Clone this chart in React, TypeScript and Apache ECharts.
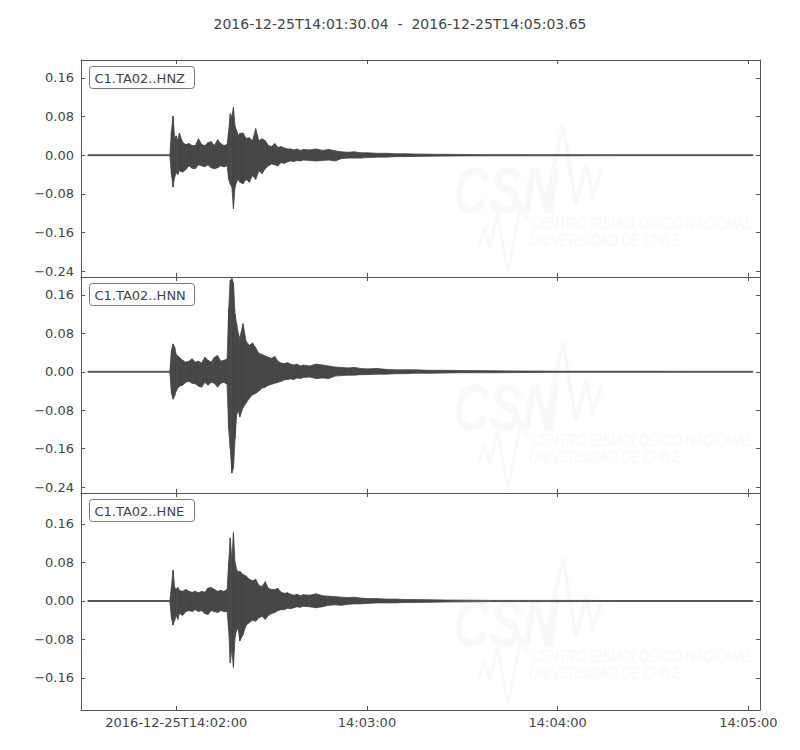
import React, { useEffect, useRef } from "react";
import * as echarts from "echarts";

const TITLE = "2016-12-25T14:01:30.04  -  2016-12-25T14:05:03.65";
const CHANNELS = ["C1.TA02..HNZ", "C1.TA02..HNN", "C1.TA02..HNE"];

// time axis: seconds after 2016-12-25T14:01:00
const X_MIN = 30.04;
const X_MAX = 243.65;
const X_TICKS = [60, 120, 180, 240];
const X_TICK_LABELS = ["2016-12-25T14:02:00", "14:03:00", "14:04:00", "14:05:00"];

const Y_LIMITS = [
  [-0.2524, 0.1973],
  [-0.2524, 0.1973],
  [-0.2265, 0.2244],
];
const Y_TICKS = [
  [-0.24, -0.16, -0.08, 0, 0.08, 0.16],
  [-0.24, -0.16, -0.08, 0, 0.08, 0.16],
  [-0.16, -0.08, 0, 0.08, 0.16],
];

// envelope sample times (s after 14:01:00)
const TIMES = [
  32.2, 58, 58.5, 59, 59.5, 60, 60.5, 61, 62, 63, 64, 65, 66, 67, 68, 69, 70, 71, 72, 73, 74, 75, 76,
  76.5, 77, 77.5, 78, 78.5, 79, 79.5, 80, 81, 82, 83, 84, 85, 86, 87, 88, 89, 90, 91, 92, 93, 94, 95,
  96, 97, 98, 99, 100, 102, 104, 106, 108, 110, 112, 114, 116, 118, 120, 123, 126, 129, 132, 135, 140,
  145, 150, 160, 170, 180, 200, 220, 241.4,
];

// upper / lower envelopes
const HNZ_MAX = [
  0.001, 0.001, 0.05, 0.081, 0.035, 0.04, 0.03, 0.046, 0.027, 0.022, 0.024, 0.02, 0.02, 0.034, 0.022, 0.02, 0.026, 0.028, 0.02, 0.032, 0.024, 0.02, 0.022,
  0.05, 0.086, 0.08, 0.099, 0.06, 0.051, 0.041, 0.045, 0.046, 0.035, 0.036, 0.03, 0.055, 0.03, 0.034, 0.03, 0.02, 0.018, 0.024, 0.016, 0.018, 0.015, 0.013,
  0.013, 0.011, 0.013, 0.01, 0.012, 0.011, 0.013, 0.01, 0.012, 0.009, 0.007, 0.006, 0.007, 0.005, 0.005, 0.004, 0.004, 0.003, 0.003, 0.0025, 0.002,
  0.0018, 0.0015, 0.0012, 0.0012, 0.0012, 0.001, 0.001, 0.001,
];
const HNZ_MIN = [
  -0.001, -0.001, -0.04, -0.066, -0.045, -0.036, -0.04, -0.032, -0.035, -0.03, -0.022, -0.027, -0.028, -0.02, -0.022, -0.024, -0.02, -0.026, -0.028, -0.026, -0.022, -0.024, -0.022,
  -0.05, -0.06, -0.066, -0.111, -0.066, -0.055, -0.05, -0.056, -0.059, -0.05, -0.056, -0.042, -0.05, -0.032, -0.038, -0.028, -0.022, -0.018, -0.02, -0.022, -0.015, -0.017, -0.014,
  -0.012, -0.013, -0.011, -0.012, -0.01, -0.011, -0.012, -0.011, -0.01, -0.012, -0.007, -0.006, -0.006, -0.006, -0.005, -0.004, -0.004, -0.003, -0.003, -0.0025, -0.002,
  -0.0018, -0.0015, -0.0012, -0.0012, -0.0012, -0.001, -0.001, -0.001,
];
const HNN_MAX = [
  0.001, 0.001, 0.045, 0.058, 0.051, 0.036, 0.033, 0.03, 0.024, 0.02, 0.022, 0.027, 0.02, 0.022, 0.018, 0.03, 0.024, 0.02, 0.03, 0.034, 0.022, 0.024, 0.026,
  0.13, 0.19, 0.194, 0.185, 0.12, 0.1, 0.08, 0.07, 0.1, 0.063, 0.055, 0.06, 0.05, 0.038, 0.036, 0.033, 0.03, 0.028, 0.032, 0.022, 0.018, 0.017, 0.019,
  0.016, 0.014, 0.016, 0.012, 0.014, 0.012, 0.016, 0.014, 0.012, 0.01, 0.009, 0.008, 0.009, 0.007, 0.006, 0.007, 0.005, 0.004, 0.004, 0.004, 0.003,
  0.003, 0.0025, 0.002, 0.0015, 0.0012, 0.0012, 0.001, 0.001,
];
const HNN_MIN = [
  -0.001, -0.001, -0.045, -0.057, -0.05, -0.04, -0.034, -0.03, -0.028, -0.022, -0.02, -0.024, -0.025, -0.03, -0.032, -0.022, -0.028, -0.022, -0.024, -0.032, -0.024, -0.022, -0.026,
  -0.12, -0.16, -0.211, -0.2, -0.14, -0.09, -0.08, -0.094, -0.075, -0.065, -0.055, -0.048, -0.045, -0.04, -0.034, -0.032, -0.028, -0.026, -0.024, -0.022, -0.02, -0.017, -0.016,
  -0.015, -0.016, -0.013, -0.014, -0.012, -0.011, -0.014, -0.013, -0.014, -0.009, -0.008, -0.007, -0.007, -0.006, -0.006, -0.005, -0.005, -0.004, -0.004, -0.003, -0.003,
  -0.0025, -0.002, -0.002, -0.0015, -0.0012, -0.0012, -0.001, -0.001,
];
const HNE_MAX = [
  0.001, 0.001, 0.03, 0.064, 0.028, 0.025, 0.028, 0.022, 0.02, 0.024, 0.02, 0.018, 0.02, 0.017, 0.02, 0.018, 0.027, 0.028, 0.024, 0.02, 0.022, 0.02, 0.024,
  0.08, 0.131, 0.085, 0.142, 0.08, 0.065, 0.06, 0.062, 0.055, 0.052, 0.045, 0.042, 0.045, 0.032, 0.03, 0.04, 0.026, 0.024, 0.024, 0.026, 0.018, 0.016, 0.017,
  0.014, 0.012, 0.014, 0.011, 0.013, 0.012, 0.015, 0.011, 0.01, 0.009, 0.008, 0.007, 0.008, 0.006, 0.005, 0.005, 0.004, 0.004, 0.003, 0.003, 0.0025,
  0.002, 0.0018, 0.0012, 0.0012, 0.0012, 0.001, 0.001, 0.001,
];
const HNE_MIN = [
  -0.001, -0.001, -0.035, -0.05, -0.04, -0.03, -0.038, -0.025, -0.03, -0.022, -0.02, -0.022, -0.018, -0.022, -0.02, -0.026, -0.028, -0.02, -0.022, -0.024, -0.02, -0.022, -0.022,
  -0.06, -0.128, -0.1, -0.138, -0.075, -0.06, -0.058, -0.083, -0.07, -0.05, -0.045, -0.04, -0.042, -0.035, -0.032, -0.038, -0.03, -0.026, -0.024, -0.02, -0.018, -0.018, -0.015,
  -0.016, -0.014, -0.012, -0.013, -0.011, -0.012, -0.014, -0.012, -0.009, -0.008, -0.009, -0.007, -0.006, -0.006, -0.005, -0.004, -0.004, -0.004, -0.003, -0.003, -0.0025,
  -0.002, -0.0018, -0.0012, -0.0012, -0.0012, -0.001, -0.001, -0.001,
];

const UPPER = [HNZ_MAX, HNN_MAX, HNE_MAX];
const LOWER = [HNZ_MIN, HNN_MIN, HNE_MIN];

const TRACE = "#464646";
const FRAME = "#555555";
const TEXT = "#444444";
const FONT = "DejaVu Sans";
const GRID_TOPS = [60, 277, 493];
const GRID_HEIGHTS = [217, 216, 217];
const WM = "#f8f8f8";

function fmtY(v: number) {
  const s = Math.abs(v) < 1e-9 ? "0.00" : v.toFixed(2);
  return s.replace("-", "\u2212");
}

export default function App() {
  const ref = useRef<HTMLDivElement>(null);

  useEffect(() => {
    if (!ref.current) return;
    const chart = echarts.init(ref.current, null, { renderer: "svg" });

    const grids: any[] = [];
    const xAxes: any[] = [];
    const yAxes: any[] = [];
    const series: any[] = [];
    const graphics: any[] = [];

    for (let i = 0; i < 3; i++) {
      grids.push({ left: 81, right: 40, top: GRID_TOPS[i], height: GRID_HEIGHTS[i], containLabel: false });
      const baseX = {
        type: "value",
        gridIndex: i,
        min: X_MIN,
        max: X_MAX,
        axisLine: { show: true, onZero: false, lineStyle: { color: FRAME, width: 1 } },
        axisTick: { show: true, inside: true, length: 4, customValues: X_TICKS, lineStyle: { color: FRAME } },
        splitLine: { show: false },
      };
      xAxes.push({
        ...baseX,
        position: "bottom",
        axisLabel: {
          show: i === 2,
          customValues: X_TICKS,
          margin: 6,
          color: TEXT,
          fontSize: 13,
          fontFamily: FONT,
          formatter: (v: number) => {
            const k = X_TICKS.findIndex((t) => Math.abs(t - v) < 1e-6);
            return k >= 0 ? X_TICK_LABELS[k] : "";
          },
        },
      });
      xAxes.push({ ...baseX, position: "top", axisLabel: { show: false } });
      const baseY = {
        type: "value",
        gridIndex: i,
        min: Y_LIMITS[i][0],
        max: Y_LIMITS[i][1],
        axisLine: { show: true, onZero: false, lineStyle: { color: FRAME, width: 1 } },
        axisTick: { show: true, inside: true, length: 4, customValues: Y_TICKS[i], lineStyle: { color: FRAME } },
        splitLine: { show: false },
      };
      yAxes.push({
        ...baseY,
        position: "left",
        axisLabel: {
          show: true,
          customValues: Y_TICKS[i],
          margin: 7,
          color: TEXT,
          fontSize: 13,
          fontFamily: FONT,
          formatter: (v: number) => fmtY(v),
        },
      });
      yAxes.push({ ...baseY, position: "right", axisLabel: { show: false } });

      const up = UPPER[i];
      const lo = LOWER[i];
      const data: number[][] = [];
      for (let k = 0; k < TIMES.length - 1; k++) {
        data.push([TIMES[k], up[k], lo[k], TIMES[k + 1], up[k + 1], lo[k + 1]]);
      }
      series.push({
        type: "custom",
        xAxisIndex: i * 2,
        yAxisIndex: i * 2,
        clip: true,
        silent: true,
        z: 5,
        encode: { x: [0, 3], y: [1, 2, 4, 5] },
        data,
        renderItem: (_params: any, api: any) => {
          const a = api.coord([api.value(0), api.value(1)]);
          const b = api.coord([api.value(3), api.value(4)]);
          const c = api.coord([api.value(3), api.value(5)]);
          const d = api.coord([api.value(0), api.value(2)]);
          return {
            type: "polygon",
            shape: { points: [a, b, c, d] },
            style: { fill: TRACE, stroke: TRACE, lineWidth: 0.8 },
          };
        },
      });

      const dy = GRID_TOPS[i] - 60;
      // faint CSN watermark
      graphics.push(
        {
          type: "text",
          z: 0,
          x: 453,
          y: 158 + dy,
          scaleY: 1.3,
          silent: true,
          style: { text: "CSN", font: "italic bold 50px Liberation Sans", fill: WM },
        },
        {
          type: "polyline",
          z: 0,
          silent: true,
          shape: { points: [[545, 207 + dy], [563, 125 + dy], [576, 205 + dy], [586, 163 + dy], [593, 195 + dy], [602, 168 + dy]] },
          style: { stroke: WM, lineWidth: 4, fill: null },
        },
        {
          type: "polyline",
          z: 0,
          silent: true,
          shape: { points: [[478, 245 + dy], [485, 230 + dy], [490, 248 + dy], [497, 213 + dy], [508, 272 + dy], [521, 205 + dy], [528, 222 + dy]] },
          style: { stroke: WM, lineWidth: 3, fill: null },
        },
        {
          type: "text",
          z: 0,
          x: 531,
          y: 215 + dy,
          scaleY: 1.25,
          silent: true,
          style: { text: "CENTRO SISMOLÓGICO NACIONAL", font: "italic 13px Liberation Sans", fill: WM },
        },
        {
          type: "text",
          z: 0,
          x: 529,
          y: 232 + dy,
          scaleY: 1.25,
          silent: true,
          style: { text: "UNIVERSIDAD DE CHILE", font: "italic 13px Liberation Sans", fill: WM },
        }
      );
      // channel label box
      graphics.push(
        {
          type: "rect",
          z: 100,
          silent: true,
          shape: { x: 89.5, y: GRID_TOPS[i] + 6.5, width: 105, height: 22, r: 3 },
          style: { fill: "#ffffff", stroke: "#777777", lineWidth: 1 },
        },
        {
          type: "text",
          z: 101,
          silent: true,
          x: 94.5,
          y: GRID_TOPS[i] + 18,
          style: { text: CHANNELS[i], font: `13px ${FONT}`, fill: TEXT, verticalAlign: "middle", align: "left" },
        }
      );
    }

    chart.setOption({
      animation: false,
      backgroundColor: "#ffffff",
      title: {
        text: TITLE,
        left: "center",
        top: 12,
        textStyle: { fontSize: 14, fontWeight: "normal", color: TEXT, fontFamily: FONT },
      },
      grid: grids,
      xAxis: xAxes,
      yAxis: yAxes,
      series,
      graphic: { elements: graphics },
    });

    return () => chart.dispose();
  }, []);

  return (
    <div
      ref={ref}
      style={{ position: "fixed", left: 0, top: 0, width: 800, height: 750, background: "#ffffff" }}
    />
  );
}
